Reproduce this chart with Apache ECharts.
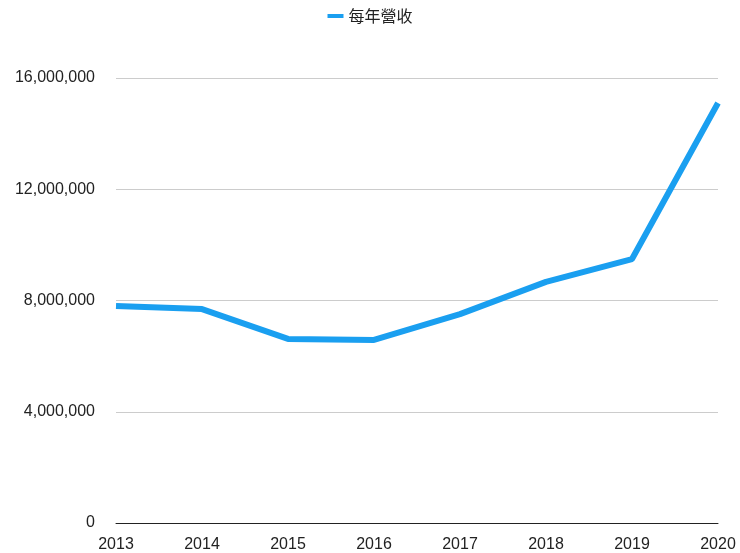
<!DOCTYPE html>
<html><head><meta charset="utf-8">
<script src="https://cdn.jsdelivr.net/npm/echarts@6/dist/echarts.min.js"></script>
<style>html,body{margin:0;padding:0;background:#fff}#c{width:740px;height:553px}</style>
</head><body><div id="c"></div>
<script>
const years = ['2013','2014','2015','2016','2017','2018','2019','2020'];
const revenue = [7800000, 7690000, 6620000, 6580000, 7510000, 8670000, 9490000, 15100000];
const seriesName = '每年營收';
const chart = echarts.init(document.getElementById('c'));
chart.setOption({
  animation: false,
  legend: {top: 3, left: 'center', itemWidth: 16, itemHeight: 4, icon: 'rect',
    textStyle: {fontSize: 16, color: '#222', fontFamily: 'Noto Sans CJK TC'}, data: [seriesName]},
  grid: {left: 116, right: 22, top: 78, bottom: 30},
  xAxis: {type: 'category', data: years, boundaryGap: false,
    axisLine: {lineStyle: {color: '#222', width: 1}}, axisTick: {show: false},
    axisLabel: {fontSize: 16, color: '#222', margin: 14, fontFamily: 'Liberation Sans'}},
  yAxis: {type: 'value', min: 0, max: 16000000, interval: 4000000,
    axisLine: {show: false}, axisTick: {show: false},
    splitLine: {lineStyle: {color: '#ccc'}},
    axisLabel: {fontSize: 16, color: '#222', margin: 21, fontFamily: 'Liberation Sans',
      formatter: v => v.toLocaleString('en-US')}},
  series: [{name: seriesName, type: 'line', data: revenue, symbol: 'none',
    lineStyle: {width: 6, color: '#1a9ff0'}, itemStyle: {color: '#1a9ff0'}}]
});
</script></body></html>
